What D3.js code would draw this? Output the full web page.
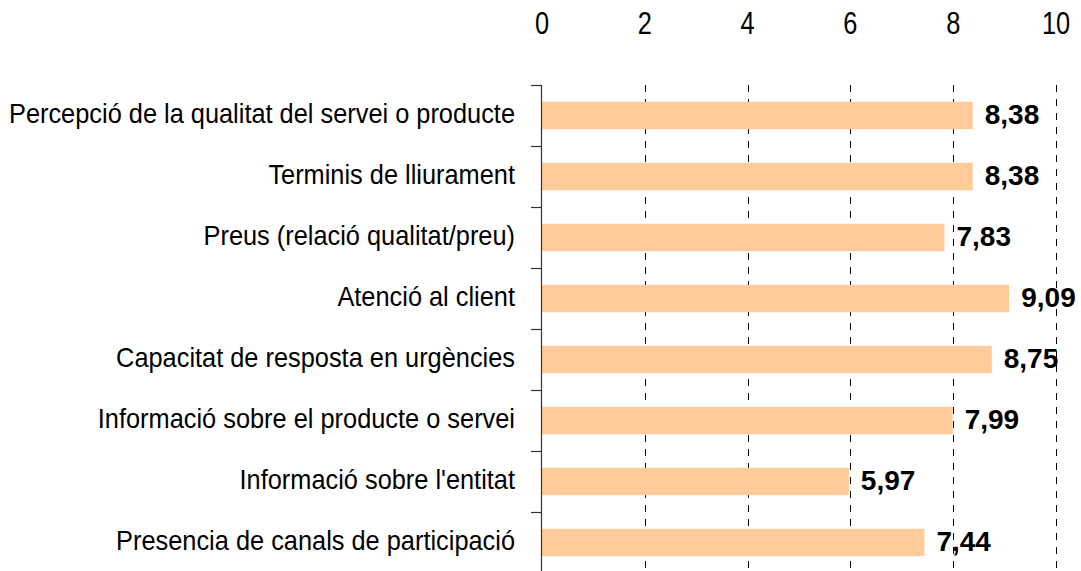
<!DOCTYPE html>
<html>
<head>
<meta charset="utf-8">
<script src="https://cdn.jsdelivr.net/npm/d3@7"></script>
<style>
  body { margin: 0; background: #fff; }
  text { font-family: "Liberation Sans", Arial, sans-serif; }
</style>
</head>
<body>
<div id="chart"></div>
<script>
var categories = [
    "Percepció de la qualitat del servei o producte",
    "Terminis de lliurament",
    "Preus (relació qualitat/preu)",
    "Atenció al client",
    "Capacitat de resposta en urgències",
    "Informació sobre el producte o servei",
    "Informació sobre l'entitat",
    "Presencia de canals de participació"
];
var values = [8.38, 8.38, 7.83, 9.09, 8.75, 7.99, 5.97, 7.44];
var xTicks = [0, 2, 4, 6, 8, 10];

var width = 1081, height = 571;
var plotLeft = 542, plotRight = 1056, plotTop = 85;
var band = 61;

var svg = d3.select("#chart").append("svg")
    .attr("width", width)
    .attr("height", height);

var x = d3.scaleLinear().domain([0, 10]).range([plotLeft, plotRight]);
var y = d3.scaleBand()
    .domain(categories)
    .range([plotTop, plotTop + band * categories.length])
    .paddingInner(0.55)
    .paddingOuter(0.275);

// dashed gridlines
svg.append("g")
    .selectAll("line")
    .data(xTicks.filter(function(d) { return d > 0; }))
    .enter().append("line")
    .attr("x1", function(d) { return Math.round(x(d)) + 0.5; })
    .attr("x2", function(d) { return Math.round(x(d)) + 0.5; })
    .attr("y1", plotTop)
    .attr("y2", height)
    .attr("stroke", "#000")
    .attr("stroke-width", 1)
    .attr("stroke-dasharray", "7,7");

// top tick labels (narrow glyphs)
svg.append("g")
    .selectAll("text")
    .data(xTicks)
    .enter().append("text")
    .attr("transform", function(d) { return "translate(" + x(d) + ",34) scale(0.82,1)"; })
    .attr("text-anchor", "middle")
    .attr("font-size", 31)
    .attr("fill", "#000")
    .text(function(d) { return d; });

// bars
svg.append("g")
    .selectAll("rect")
    .data(values)
    .enter().append("rect")
    .attr("x", x(0))
    .attr("y", function(d, i) { return y(categories[i]); })
    .attr("width", function(d) { return x(d) - x(0); })
    .attr("height", y.bandwidth())
    .attr("fill", "#ffcc99");

// left axis line and ticks between categories
var boundaries = d3.range(categories.length + 1).map(function(i) { return plotTop + i * band; });
svg.append("line")
    .attr("x1", plotLeft - 0.5).attr("x2", plotLeft - 0.5)
    .attr("y1", plotTop).attr("y2", height)
    .attr("stroke", "#333").attr("stroke-width", 1.2);
svg.append("g")
    .selectAll("line")
    .data(boundaries)
    .enter().append("line")
    .attr("x1", plotLeft - 11).attr("x2", plotLeft)
    .attr("y1", function(d) { return d + 0.5; })
    .attr("y2", function(d) { return d + 0.5; })
    .attr("stroke", "#333").attr("stroke-width", 1.2);

// category labels
svg.append("g")
    .selectAll("text")
    .data(categories)
    .enter().append("text")
    .attr("transform", function(d) {
        return "translate(" + (plotLeft - 27) + "," + (y(d) + y.bandwidth() / 2 + 7) + ") scale(0.89,1)";
    })
    .attr("text-anchor", "end")
    .attr("font-size", 28.5)
    .attr("fill", "#000")
    .text(function(d) { return d; });

// value labels
svg.append("g")
    .selectAll("text")
    .data(values)
    .enter().append("text")
    .attr("x", function(d) { return x(d) + 12; })
    .attr("y", function(d, i) { return y(categories[i]) + y.bandwidth() / 2 + 8; })
    .attr("font-size", 28)
    .attr("font-weight", "bold")
    .attr("fill", "#000")
    .text(function(d) { return d3.format(".2f")(d).replace(".", ","); });
</script>
</body>
</html>
